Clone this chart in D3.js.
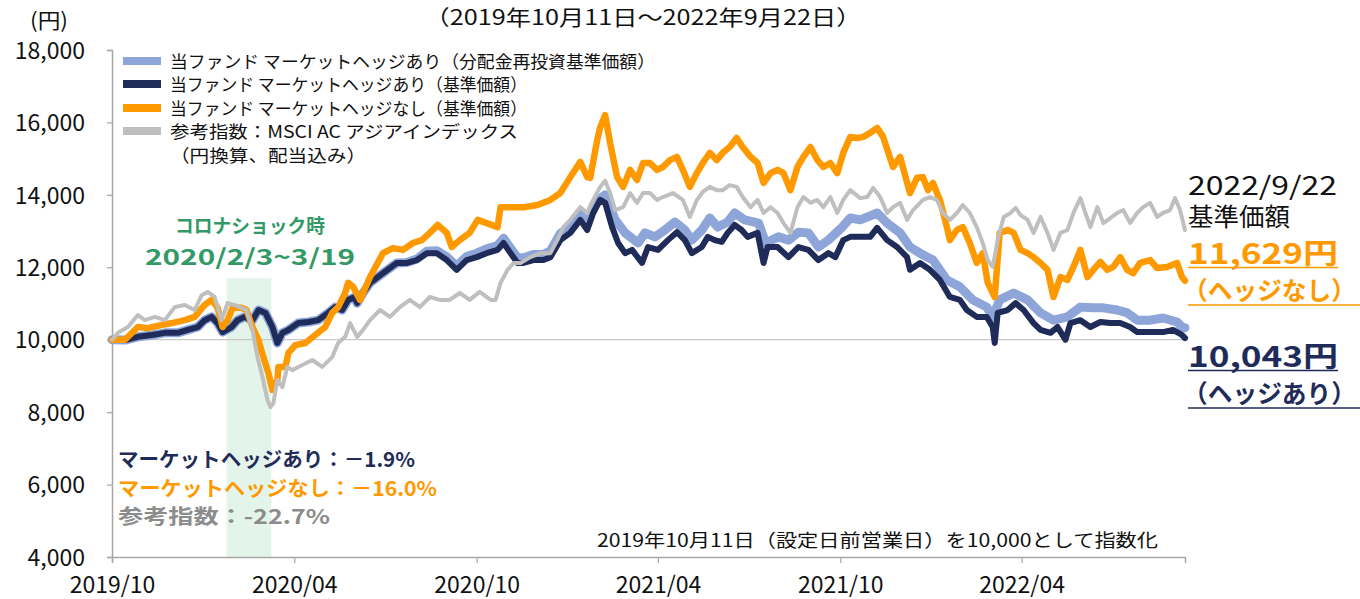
<!DOCTYPE html>
<html>
<head>
<meta charset="utf-8">
<script src="https://cdn.jsdelivr.net/npm/d3@7"></script>
<style>
  body{margin:0;background:#fff;}
  svg{display:block;}
  text{font-family:"Noto Sans CJK JP","Noto Sans",sans-serif;}
</style>
</head>
<body>
<svg id="chart" width="1360" height="599"></svg>
<script>
// data ---------------------------------------------
// each point: [days since 2019/10/11, value]  (2019/10/11 = 10,000)
var hedgedReinv=[[0,10000],[13,9990],[26,10080],[40,10130],[53,10190],[66,10190],[76,10270],[86,10350],[93,10540],[100,10630],[106,10460],[111,10210],[120,10350],[126,10540],[133,10630],[141,10540],[147,10820],[154,10740],[161,10350],[166,9910],[171,10190],[177,10270],[187,10460],[197,10490],[207,10540],[217,10740],[224,10900],[231,10820],[237,11100],[244,11180],[246,11010],[252,11290],[259,11570],[272,11840],[286,12120],[296,12130],[306,12230],[316,12440],[326,12460],[336,12290],[346,12030],[356,12300],[366,12390],[376,12510],[387,12600],[393,12800],[400,12530],[407,12260],[413,12260],[423,12350],[433,12360],[440,12450],[450,12930],[460,13140],[470,13510],[477,13240],[483,13700],[488,13860],[495,14000],[505,13310],[515,12950],[528,12670],[535,12950],[545,12840],[555,13030],[565,13250],[575,13030],[582,12750],[592,13030],[600,13360],[608,13110],[618,13250],[625,13500],[635,13310],[649,13220],[656,12670],[669,12840],[679,12750],[689,12970],[699,12950],[709,12560],[719,12750],[733,13110],[741,13360],[751,13310],[768,13500],[778,13220],[791,12950],[801,12560],[811,12390],[824,12200],[838,11650],[851,11460],[864,11100],[878,10900],[884,10630],[891,11100],[905,11290],[919,11100],[932,10740],[945,10540],[959,10630],[972,10900],[985,10880],[995,10880],[1009,10820],[1019,10740],[1029,10540],[1042,10540],[1055,10600],[1069,10490],[1075,10320],[1077,10330]];
var hedgedNav=[[0,10000],[13,9990],[26,10080],[40,10130],[53,10190],[66,10190],[76,10270],[86,10350],[93,10540],[100,10630],[106,10460],[111,10210],[120,10350],[126,10540],[133,10630],[141,10540],[147,10820],[154,10740],[161,10350],[166,9910],[171,10190],[177,10270],[187,10460],[197,10490],[207,10540],[217,10740],[224,10900],[231,10820],[237,11100],[244,11180],[246,11010],[252,11290],[259,11570],[272,11840],[286,12120],[296,12120],[306,12200],[316,12390],[326,12390],[336,12200],[346,11930],[356,12200],[366,12280],[376,12390],[387,12480],[393,12670],[400,12390],[407,12120],[413,12120],[423,12200],[433,12200],[440,12280],[450,12750],[460,12950],[470,13310],[477,13030],[483,13500],[490,13860],[495,13780],[502,13110],[508,12670],[515,12390],[522,12480],[532,12120],[538,12560],[548,12480],[558,12750],[567,12970],[575,12750],[582,12390],[592,12560],[598,12840],[605,12750],[612,12700],[618,12950],[625,13170],[632,13030],[638,12840],[648,12950],[654,12120],[658,12560],[668,12560],[679,12280],[689,12560],[699,12480],[709,12200],[719,12390],[726,12280],[734,12750],[741,12840],[751,12840],[761,12840],[768,13090],[778,12750],[788,12560],[798,12280],[801,11930],[811,12120],[821,11930],[831,11650],[841,11180],[851,11100],[858,10820],[868,10630],[878,10630],[884,10350],[886,9910],[889,10740],[899,10820],[907,11010],[915,10820],[925,10460],[932,10270],[942,10190],[949,10350],[957,10000],[962,10460],[972,10540],[982,10350],[992,10490],[1002,10460],[1012,10460],[1022,10350],[1029,10210],[1042,10210],[1055,10210],[1065,10270],[1074,10130],[1077,10043]];
var unhedgedNav=[[0,10000],[13,10000],[26,10350],[36,10320],[50,10410],[60,10460],[73,10540],[83,10630],[93,10960],[100,11100],[106,10880],[111,10350],[116,10540],[121,10880],[130,10880],[135,10820],[141,10350],[147,9990],[152,9520],[157,9080],[161,8610],[166,8890],[167,9250],[174,9250],[177,9630],[184,9850],[194,9910],[204,10130],[214,10350],[221,10740],[227,10900],[234,11290],[237,11570],[242,11460],[249,11100],[259,11730],[272,12390],[282,12530],[292,12480],[302,12670],[311,12750],[319,12950],[327,13170],[336,12950],[341,12560],[349,12750],[359,12950],[367,13310],[376,13220],[387,13110],[390,13660],[400,13660],[413,13660],[427,13720],[440,13860],[450,14050],[460,14490],[470,14910],[477,14490],[480,14470],[487,15510],[490,15870],[495,16200],[500,15430],[507,14490],[513,14220],[520,14690],[527,14410],[533,14880],[540,14880],[547,14690],[553,14770],[560,14960],[567,15050],[573,14690],[580,14220],[587,14600],[593,14880],[600,15160],[607,14960],[613,15160],[620,15320],[627,15570],[633,15320],[641,15050],[648,14880],[654,14330],[661,14600],[668,14690],[674,14600],[681,14130],[688,14770],[694,15050],[701,15320],[708,14960],[714,14770],[721,14880],[728,14600],[734,15160],[741,15600],[748,15570],[754,15600],[761,15710],[768,15850],[774,15600],[784,14770],[791,15050],[801,14050],[808,14470],[814,14490],[819,14130],[824,14330],[831,13860],[838,13110],[841,12750],[848,13030],[854,13110],[861,12670],[868,12120],[874,12390],[879,11570],[886,11180],[891,12950],[899,13030],[905,12950],[912,12480],[919,12390],[925,12280],[932,12120],[939,11930],[945,11180],[952,11730],[959,11650],[965,12010],[972,12480],[979,11730],[985,11930],[992,12150],[999,11930],[1005,12010],[1012,12280],[1019,11930],[1025,11840],[1032,12120],[1042,12200],[1049,11980],[1059,12010],[1069,12120],[1074,11730],[1077,11629]];
var refIndex=[[0,10000],[6,10190],[16,10350],[26,10680],[33,10540],[43,10630],[53,10540],[63,10900],[73,10960],[83,10820],[90,11230],[96,11320],[103,11180],[110,10540],[116,11010],[123,10960],[130,10880],[135,10820],[141,10270],[146,9520],[151,8970],[156,8335],[159,8140],[162,8250],[166,8890],[171,8690],[176,9250],[181,9160],[191,9300],[201,9440],[211,9250],[221,9520],[227,9910],[234,10080],[239,10460],[246,10080],[252,10270],[259,10540],[269,10820],[279,10630],[289,10900],[299,11100],[309,10900],[319,11180],[329,11100],[339,11100],[349,11290],[359,11100],[369,11320],[380,11100],[385,11100],[390,11570],[397,11930],[403,12120],[410,12120],[420,12280],[430,12390],[440,12390],[447,12750],[453,13110],[460,13310],[470,13660],[477,13500],[483,13860],[490,14220],[495,14390],[500,14050],[505,13580],[513,13660],[520,14050],[527,13780],[533,14050],[540,14050],[547,13860],[553,13940],[563,14050],[573,13860],[580,13390],[587,13860],[593,14080],[600,14220],[607,14130],[613,14130],[620,14270],[627,14220],[633,13940],[641,13660],[648,13860],[654,13500],[661,13660],[668,13500],[674,13220],[681,12950],[688,13660],[694,13940],[701,13780],[708,13860],[714,13660],[721,13940],[728,13500],[734,13860],[741,14130],[751,13910],[758,13940],[764,14190],[771,13940],[778,13500],[784,13660],[791,13780],[798,13310],[804,13580],[814,13860],[821,13940],[828,13860],[834,13500],[841,13310],[848,13500],[854,13720],[861,13500],[868,13110],[874,12670],[879,12200],[884,12010],[889,12750],[895,13390],[902,13500],[907,13640],[912,13440],[919,13310],[925,12950],[932,13390],[939,12950],[945,12480],[952,12950],[959,13030],[965,13500],[972,13910],[977,13500],[982,13110],[989,13660],[995,13220],[1002,13360],[1009,13500],[1015,13580],[1022,13220],[1029,13500],[1035,13660],[1042,13780],[1049,13390],[1055,13500],[1062,13580],[1067,13910],[1072,13580],[1077,13030]];

var seriesNames=['当ファンド マーケットヘッジあり（分配金再投資基準価額）','当ファンド マーケットヘッジあり（基準価額）','当ファンド マーケットヘッジなし（基準価額）','参考指数：MSCI AC アジアインデックス'];
var seriesColors=['#8EA5DA','#1F2B58','#FF9900','#BFBFBF'];
var seriesWidths=[9,6,6.5,4];

var yTicks=[4000,6000,8000,10000,12000,14000,16000,18000];
var xTickDates=['2019-10-11','2020-04-11','2020-10-11','2021-04-11','2021-10-11','2022-04-11'];
var xTickLabels=['2019/10','2020/04','2020/10','2021/04','2021/10','2022/04'];

var covidStart='2020-02-03', covidEnd='2020-03-19', covidTop=11700;
var covidReturns=['マーケットヘッジあり：－1.9%','マーケットヘッジなし：－16.0%','参考指数：-22.7%'];
var covidColors=['#1F2B58','#FF9900','#8C8C8C'];

var startDate=new Date(2019,9,11), endDate=new Date(2022,8,22);

// scales -------------------------------------------
var svg=d3.select('#chart');
var parse=d3.timeParse('%Y-%m-%d');
var x=d3.scaleTime().domain([startDate,endDate]).range([112,1185]);
var y=d3.scaleLinear().domain([4000,18000]).range([557,50]);
var dayToDate=function(d){return d3.timeDay.offset(startDate,d);};

// small helper: text with a fixed drawn width
function label(tx,ty,str,size,color,opt){
  opt=opt||{};
  var t=svg.append('text').attr('x',tx).attr('y',ty)
    .style('font-size',size+'px').attr('fill',color).text(str);
  if(opt.bold) t.style('font-weight','bold');
  if(opt.anchor) t.attr('text-anchor',opt.anchor);
  if(opt.w) t.attr('textLength',opt.w).attr('lengthAdjust','spacingAndGlyphs');
  return t;
}

// covid shading
svg.append('rect')
  .attr('x',x(parse(covidStart)))
  .attr('width',x(parse(covidEnd))-x(parse(covidStart)))
  .attr('y',y(covidTop))
  .attr('height',y(4000)-y(covidTop))
  .attr('fill','#E3F4EB');

// 10,000 reference line
svg.append('line')
  .attr('x1',x(startDate)).attr('x2',x(endDate))
  .attr('y1',y(10000)).attr('y2',y(10000))
  .attr('stroke','#C8C8C8').attr('stroke-width',1.2);

// axes
var yAxis=svg.append('g').attr('transform','translate(112,0)')
  .call(d3.axisLeft(y).tickValues(yTicks).tickFormat(d3.format(',')).tickSize(5).tickPadding(22));
var xAxis=svg.append('g').attr('transform','translate(0,557)')
  .call(d3.axisBottom(x).tickValues(xTickDates.map(parse)).tickFormat(function(d,i){return xTickLabels[i];}).tickSize(6).tickPadding(14));
[yAxis,xAxis].forEach(function(g){
  g.attr('font-family',null);
  g.select('.domain').attr('stroke','#A6A6A6').attr('stroke-width',1.5);
  g.selectAll('.tick line').attr('stroke','#A6A6A6').attr('stroke-width',1.2);
  g.selectAll('.tick text').attr('fill','#111').style('font-size','23px');
});
yAxis.selectAll('.tick text').attr('dy','0.36em');

// lines
var line=d3.line().x(function(d){return x(dayToDate(d[0]));}).y(function(d){return y(d[1]);});
[hedgedReinv,hedgedNav,unhedgedNav,refIndex].forEach(function(s,i){
  svg.append('path').datum(s)
    .attr('d',line)
    .attr('fill','none')
    .attr('stroke',seriesColors[i])
    .attr('stroke-width',seriesWidths[i])
    .attr('stroke-linejoin','round')
    .attr('stroke-linecap','round');
});

// titles
label(643,25,'（2019年10月11日～2022年9月22日）',21,'#111',{anchor:'middle',w:437});
label(30,28,'(円)',21,'#111',{w:38});

// legend
var legRows=[61,84,108,131];
var legWidths=[485,357,357,348];
seriesNames.forEach(function(n,i){
  svg.append('line').attr('x1',123).attr('x2',161).attr('y1',legRows[i]).attr('y2',legRows[i])
    .attr('stroke',seriesColors[i]).attr('stroke-width',8);
  label(170,legRows[i]+6.5,n,17.5,'#111',{w:legWidths[i]});
});
label(170,161.5,'（円換算、配当込み）',17.5,'#111',{w:196});

// covid label
label(250,233,'コロナショック時',19,'#339966',{anchor:'middle',bold:true,w:150});
label(250,265,'2020/2/3~3/19',22,'#339966',{anchor:'middle',bold:true,w:210});

var covidWidths=[297,319,212];
covidReturns.forEach(function(t,i){
  label(118,467+i*28.5,t,20.5,covidColors[i],{bold:true,w:covidWidths[i]});
});

label(597,547,'2019年10月11日（設定日前営業日）を10,000として指数化',18,'#111',{w:561});

// end-of-period labels
label(1188,195,'2022/9/22',26,'#111',{w:149});
label(1188,226,'基準価額',25,'#111',{w:102});
var endLabels=[
  {t:'11,629円',y:264,c:'#FF9900',u:267.5,ux:1338,x:1188,w:150,s:28.5},
  {t:'（ヘッジなし）',y:300,c:'#FF9900',u:305,ux:1360,x:1183,w:173,s:25},
  {t:'10,043円',y:367,c:'#1F2B58',u:370.5,ux:1338,x:1188,w:150,s:28.5},
  {t:'（ヘッジあり）',y:403,c:'#1F2B58',u:408,ux:1360,x:1183,w:173,s:25}
];
endLabels.forEach(function(l){
  label(l.x,l.y,l.t,l.s,l.c,{bold:true,w:l.w});
  svg.append('line').attr('x1',1188).attr('x2',l.ux).attr('y1',l.u).attr('y2',l.u)
    .attr('stroke',l.c).attr('stroke-width',1.5);
});
</script>
</body>
</html>
